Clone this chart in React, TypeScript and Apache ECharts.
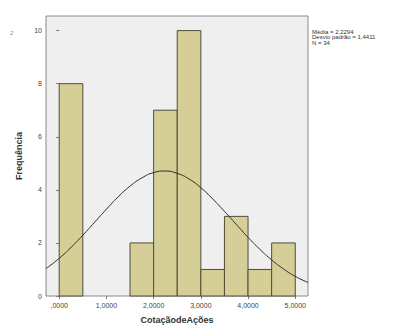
import React, { useEffect, useRef } from "react";
import * as echarts from "echarts";

const binStarts = [0, 1.5, 2.0, 2.5, 3.0, 3.5, 4.0, 4.5];
const binWidth = 0.5;
const counts = [8, 2, 7, 10, 1, 3, 1, 2];
const curveX = [-0.28, 0, 0.25, 0.5, 0.75, 1.0, 1.25, 1.5, 1.75, 2.0, 2.25, 2.5, 2.75, 3.0, 3.25, 3.5, 3.75, 4.0, 4.25, 4.5, 4.75, 5.0, 5.27];
const curveY = [1.03, 1.42, 1.83, 2.29, 2.78, 3.27, 3.74, 4.14, 4.45, 4.65, 4.71, 4.62, 4.41, 4.08, 3.66, 3.19, 2.70, 2.21, 1.76, 1.36, 1.02, 0.74, 0.51];
const xTickValues = [0, 1, 2, 3, 4, 5];
const xTickLabels = [",0000", "1,0000", "2,0000", "3,0000", "4,0000", "5,0000"];
const statsLines = ["Média = 2,2294", "Desvio padrão = 1,4411", "N = 34"];

export default function App() {
  const ref = useRef<HTMLDivElement>(null);
  useEffect(() => {
    const chart = echarts.init(ref.current!, null, { renderer: "svg" });
    const font = "Liberation Sans, Arial, sans-serif";
    chart.setOption({
      animation: false,
      backgroundColor: "#ffffff",
      textStyle: { fontFamily: font },
      grid: {
        left: 46, right: 86, top: 16, bottom: 31,
        show: true, backgroundColor: "#efefef", borderColor: "#8a8a8a", borderWidth: 1,
      },
      xAxis: {
        type: "value", min: -0.28, max: 5.27,
        name: "CotaçãodeAções", nameLocation: "middle", nameGap: 19,
        nameTextStyle: { fontFamily: font, fontSize: 9, fontWeight: "bold", color: "#333" },
        axisLine: { show: false },
        splitLine: { show: false },
        axisTick: { show: true, length: 3, inside: false, customValues: xTickValues, lineStyle: { color: "#777" } },
        axisLabel: {
          customValues: xTickValues, fontSize: 7, color: "#444", margin: 6,
          formatter: (v: number) => xTickLabels[xTickValues.indexOf(Math.round(v))] ?? "",
        },
      },
      yAxis: {
        type: "value", min: 0, max: 10.55, interval: 2,
        name: "Frequência", nameLocation: "middle", nameGap: 22,
        nameTextStyle: { fontFamily: font, fontSize: 9, fontWeight: "bold", color: "#333" },
        axisLine: { show: false },
        splitLine: { show: false },
        axisTick: { show: true, length: 3, lineStyle: { color: "#777" } },
        axisLabel: { fontSize: 7, color: "#444", margin: 4, showMaxLabel: false },
      },
      graphic: [
        {
          type: "text", left: 312, top: 29,
          style: { text: statsLines.join("\n"), fontSize: 6, lineHeight: 5.3, fill: "#333", fontFamily: font },
        },
        {
          type: "text", left: 10, top: 30,
          style: { text: "2", fontSize: 6, fontStyle: "italic", fill: "#888", fontFamily: font },
        },
      ],
      series: [
        {
          type: "custom",
          data: binStarts.map((s, i) => [s, s + binWidth, counts[i]]),
          encode: { x: [0, 1], y: 2 },
          renderItem: (params: any, api: any) => {
            const p0 = api.coord([api.value(0), 0]);
            const p1 = api.coord([api.value(1), api.value(2)]);
            return {
              type: "rect",
              shape: { x: p0[0], y: p1[1], width: p1[0] - p0[0], height: p0[1] - p1[1] },
              style: { fill: "#d5cf97", stroke: "#4e4d38", lineWidth: 1 },
            };
          },
          z: 2,
        },
        {
          type: "line",
          data: curveX.map((x, i) => [x, curveY[i]]),
          smooth: true,
          showSymbol: false,
          lineStyle: { color: "#2b2b2b", width: 1 },
          z: 3,
        },
      ],
    });
    return () => chart.dispose();
  }, []);
  return <div ref={ref} style={{ position: "absolute", left: 0, top: 0, width: 394, height: 329 }} />;
}
